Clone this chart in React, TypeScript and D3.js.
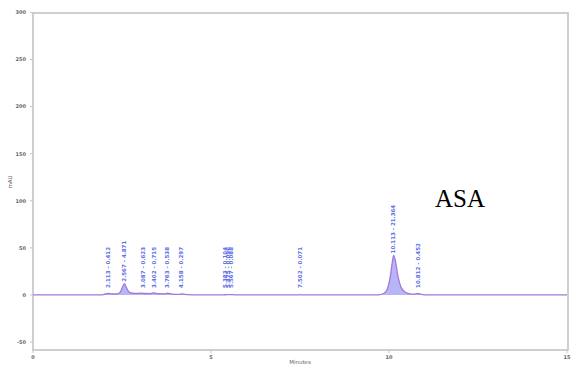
import * as d3 from 'd3';

// chromatogram trace: [minutes, mAU]
const traceTime = [0, 1.9, 2.0, 2.1, 2.2, 2.35, 2.45, 2.52, 2.57, 2.62, 2.7, 2.8, 2.95, 3.05, 3.15, 3.3, 3.4, 3.5, 3.7, 3.78, 3.9, 4.1, 4.18, 4.35, 4.6, 5.35, 5.45, 5.6, 5.8, 7.45, 7.5, 7.6, 9.7, 9.85, 9.95, 10.03, 10.09, 10.13, 10.18, 10.25, 10.33, 10.42, 10.55, 10.7, 10.8, 10.9, 11.1, 15];
const traceMau = [0, 0, 0.6, 1.5, 1.2, 1.0, 3, 9, 12, 8, 3, 1.8, 1.6, 2, 1.5, 1.4, 2.2, 1.3, 1.2, 1.8, 0.8, 0.6, 1.0, 0.3, 0, 0, 0.4, 0.3, 0, 0, 0.3, 0, 0, 1.5, 6, 18, 34, 42, 36, 20, 9, 4, 1.5, 0.8, 1.5, 0.6, 0, 0];

// peak annotations
const peakTimes = [2.113, 2.567, 3.087, 3.402, 3.763, 4.158, 5.383, 5.475, 5.567, 7.502, 10.113, 10.812];
const peakHeights = [1.5, 12, 2, 2.2, 1.8, 1.0, 0.4, 0.4, 0.3, 0.3, 42, 1.5];
const peakAreas = ['0.412', '4.871', '0.623', '0.715', '0.538', '0.297', '0.104', '0.096', '0.088', '0.071', '21.364', '0.452'];

const xTicks = [0, 5, 10, 15];
const yTicks = [-50, 0, 50, 100, 150, 200, 250, 300];

export default function App() {
  const width = 572;
  const height = 369;
  const left = 33;
  const right = 568;
  const top = 13;
  const bottom = 350;

  const x = d3.scaleLinear().domain([0, 15]).range([left, 567]);
  const y = d3.scaleLinear().domain([-50, 300]).range([342, 12.5]);

  const points: [number, number][] = traceTime.map((t, i) => [t, traceMau[i]]);
  const line = d3.line<[number, number]>().x((d) => x(d[0])).y((d) => y(d[1])).curve(d3.curveMonotoneX);
  const area = d3.area<[number, number]>().x((d) => x(d[0])).y0(y(0)).y1((d) => y(d[1])).curve(d3.curveMonotoneX);

  const tickFont = { fontFamily: 'DejaVu Sans', fontSize: 5, fill: '#666', fontWeight: 700 } as const;

  return (
    <svg width={width} height={height} style={{ position: 'absolute', left: 0, top: 0, background: '#fff' }}>
      <rect x={left} y={top} width={right - left} height={bottom - top} fill="none" stroke="#c4c4c4" strokeWidth={1.6} />

      {yTicks.map((v) => (
        <g key={v}>
          <line x1={left - 3} x2={left} y1={y(v)} y2={y(v)} stroke="#c4c4c4" />
          <text x={left - 7} y={y(v) + 1.8} textAnchor="end" {...tickFont}>
            {v}
          </text>
        </g>
      ))}
      {xTicks.map((v) => (
        <g key={v}>
          <line x1={x(v)} x2={x(v)} y1={bottom} y2={bottom + 3} stroke="#c4c4c4" />
          <text x={x(v)} y={bottom + 8.5} textAnchor="middle" {...tickFont}>
            {v}
          </text>
        </g>
      ))}
      <text x={300} y={364} textAnchor="middle" {...tickFont} fontWeight={400} fontSize={5.5}>
        Minutes
      </text>
      <text transform={`translate(12,182) rotate(-90)`} textAnchor="middle" {...tickFont} fontWeight={400} fontSize={5.5}>
        mAU
      </text>

      <path d={area(points) ?? ''} fill="#aaa8f4" opacity={0.85} />
      <path d={line(points) ?? ''} fill="none" stroke="#a478d8" strokeWidth={1.3} />

      {peakTimes.map((t, i) => {
        const base = Math.min(y(peakHeights[i]) - 2, y(0) - 7);
        return (
          <text
            key={t}
            transform={`translate(${x(t) + 2},${base}) rotate(-90)`}
            fontFamily="DejaVu Sans"
            fontSize={5.5}
            fontWeight={700}
            fill="#6270e4"
          >
            {`${t.toFixed(3)} - ${peakAreas[i]}`}
          </text>
        );
      })}

      <text x={435} y={207} fontFamily="Liberation Serif" fontSize={25} fill="#000">
        ASA
      </text>
    </svg>
  );
}
